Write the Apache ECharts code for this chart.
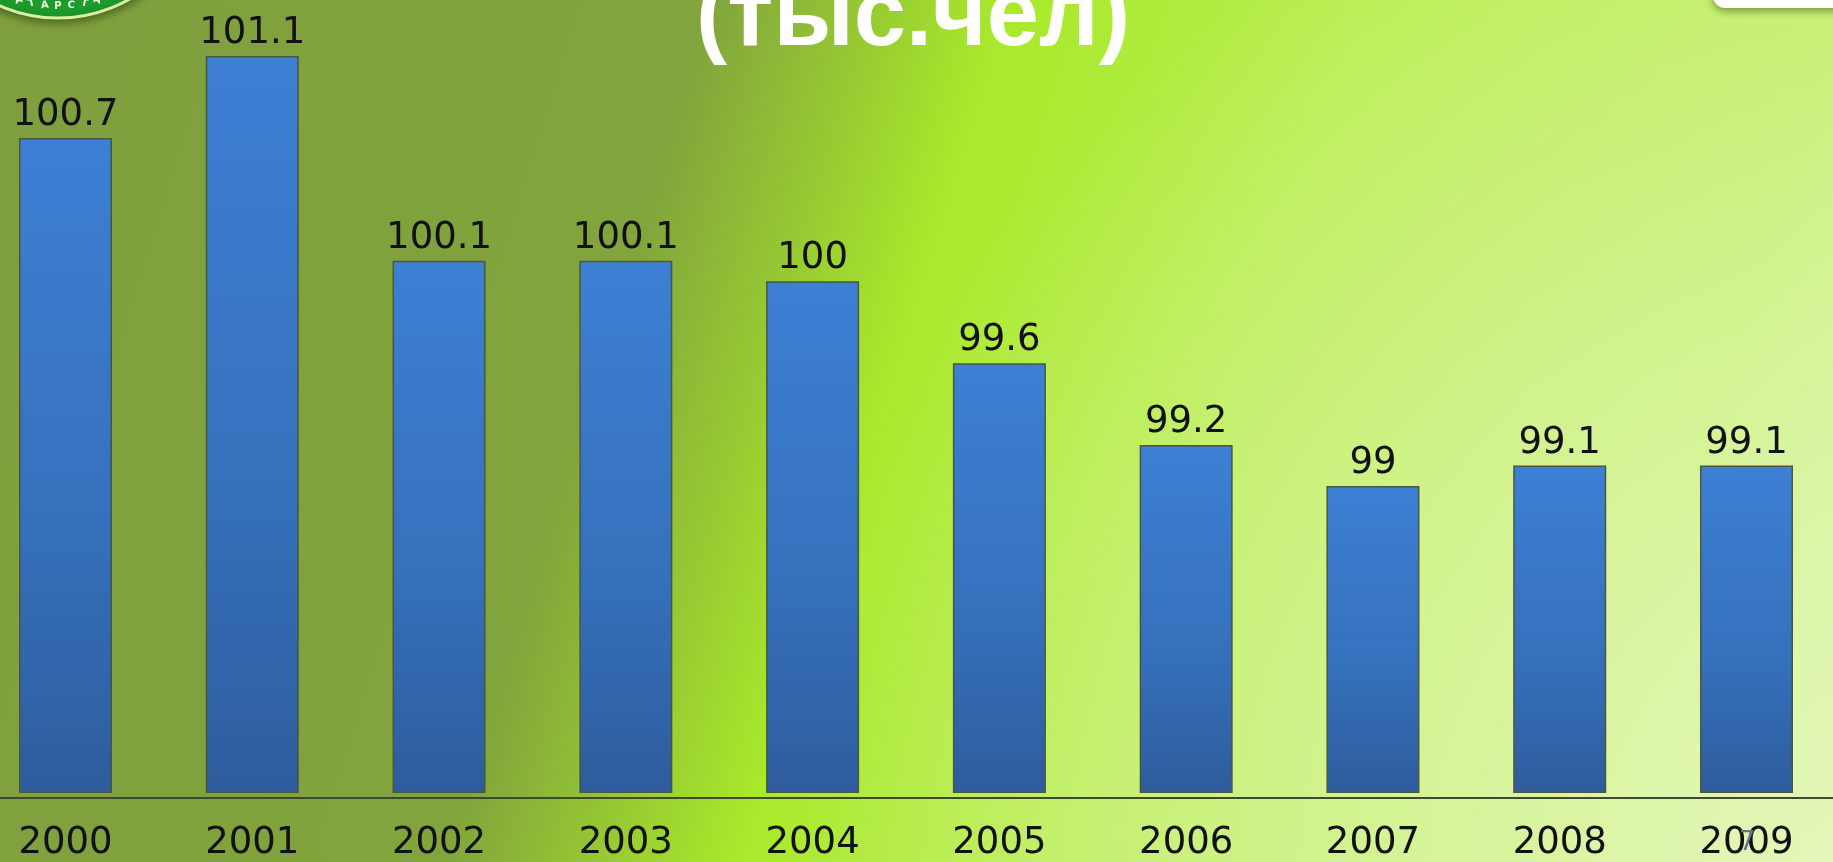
<!DOCTYPE html>
<html>
<head>
<meta charset="utf-8">
<title>(тыс.чел)</title>
<script src="https://cdn.jsdelivr.net/npm/echarts@6.0.0/dist/echarts.min.js"></script>
<style>
  html, body { margin: 0; padding: 0; overflow: hidden; }
  #chart { width: 1833px; height: 862px; }
</style>
</head>
<body>
<div id="chart"></div>
<script>
// данные
const years = ['2000', '2001', '2002', '2003', '2004', '2005', '2006', '2007', '2008', '2009']
const population = [100.7, 101.1, 100.1, 100.1, 100, 99.6, 99.2, 99, 99.1, 99.1]
const titleText = '(тыс.чел)'
const slideNumber = '7'

const chart = echarts.init(document.getElementById('chart'), null, { renderer: 'canvas' })

// буквы на гербе по дуге
const sealC = { x: 58, y: -127 }
const sealLetters = 'ТАТАРСТАН'.split('')
const sealText = sealLetters.map((ch, i) => {
    const a = Math.PI / 2 + (4 - i) * 0.1
    return {
        type: 'text',
        x: sealC.x + Math.cos(a) * 133,
        y: sealC.y + Math.sin(a) * 133,
        rotation: a - Math.PI / 2,
        style: { text: ch, fill: '#f4ffe0', font: 'bold 10px "DejaVu Sans"', align: 'center', verticalAlign: 'middle' },
        z: 12
    }
})

const labelFont = '"DejaVu Sans", Verdana, sans-serif'

const option = {
    animation: false,
    backgroundColor: {
        type: 'linear', x: 0, y: 0, x2: 1956, y2: 611, global: true,
        colorStops: [
            { offset: 0, color: '#7f9f3e' },
            { offset: 0.33, color: '#81a43c' },
            { offset: 0.47, color: '#a9e92b' },
            { offset: 0.63, color: '#b8ee50' },
            { offset: 0.86, color: '#c2ef66' },
            { offset: 1, color: '#d6f49a' }
        ]
    },
    grid: [
        // столбцы: категории на делениях, шаг 186.8px
        { left: 65.5, right: 86.5, top: 0, bottom: 64, containLabel: false },
        // линия оси на всю ширину
        { left: 0, right: 0, top: 0, bottom: 64, containLabel: false }
    ],
    xAxis: [
        {
            type: 'category',
            gridIndex: 0,
            data: years,
            boundaryGap: false,
            axisLine: { show: false },
            axisTick: { show: false },
            axisLabel: {
                interval: 0,
                color: '#111',
                fontFamily: labelFont,
                fontSize: 37,
                margin: 32
            }
        },
        {
            type: 'category',
            gridIndex: 1,
            data: years,
            axisLine: { lineStyle: { color: '#3d4a2c', width: 2 } },
            axisTick: { show: false },
            axisLabel: { show: false }
        }
    ],
    yAxis: [
        { type: 'value', gridIndex: 0, min: 97.5, max: 101.374, startValue: 97.5, show: false, splitLine: { show: false } },
        { type: 'value', gridIndex: 1, show: false, splitLine: { show: false } }
    ],
    series: [{
        type: 'bar',
        xAxisIndex: 0,
        yAxisIndex: 0,
        data: population,
        barWidth: 93,
        clip: false,
        itemStyle: {
            color: new echarts.graphic.LinearGradient(0, 0, 0, 1, [
                { offset: 0, color: '#3d80d4' },
                { offset: 0.6, color: '#3570bb' },
                { offset: 1, color: '#2e5c9c' }
            ]),
            borderColor: '#4b5640',
            borderWidth: 1.5
        },
        label: {
            show: true,
            position: 'top',
            distance: 4,
            color: '#111',
            fontFamily: labelFont,
            fontSize: 37
        }
    }],
    graphic: [
        // светлое пятно внизу справа
        {
            type: 'rect',
            shape: { x: 0, y: 0, width: 1833, height: 862 },
            style: {
                fill: new echarts.graphic.RadialGradient(1833, 862, 1050, [
                    { offset: 0, color: 'rgba(228,247,186,0.95)' },
                    { offset: 0.5, color: 'rgba(226,246,182,0.55)' },
                    { offset: 1, color: 'rgba(226,246,182,0)' }
                ], true)
            },
            z: -10,
            silent: true
        },
        // герб в левом верхнем углу
        {
            type: 'circle',
            shape: { cx: sealC.x, cy: sealC.y, r: 145 },
            style: { fill: '#1c9c2c', stroke: '#d6f1a4', lineWidth: 3, shadowBlur: 8, shadowColor: 'rgba(40,60,10,0.6)', shadowOffsetY: 3 },
            z: 10
        },
        {
            type: 'circle',
            shape: { cx: sealC.x, cy: sealC.y, r: 124 },
            style: { fill: '#1a9428', stroke: '#f2ffe6', lineWidth: 2 },
            z: 11
        },
        ...sealText,
        // белая плашка справа сверху
        {
            type: 'rect',
            shape: { x: 1713, y: -30, width: 150, height: 38, r: 12 },
            style: { fill: '#ffffff', shadowBlur: 8, shadowColor: 'rgba(50,70,10,0.55)', shadowOffsetY: 3 },
            z: 10
        },
        {
            type: 'text',
            x: 913,
            y: 66,
            style: {
                text: titleText,
                fill: '#ffffff',
                font: 'bold 94px "Liberation Sans", Arial, sans-serif',
                align: 'center',
                verticalAlign: 'bottom'
            },
            z: 10
        },
        {
            type: 'text',
            x: 1747,
            y: 856,
            style: {
                text: slideNumber,
                fill: '#6c6c90',
                font: '26px "DejaVu Sans", sans-serif',
                align: 'center',
                verticalAlign: 'bottom'
            },
            z: 10
        }
    ]
}

chart.setOption(option)
</script>
</body>
</html>
